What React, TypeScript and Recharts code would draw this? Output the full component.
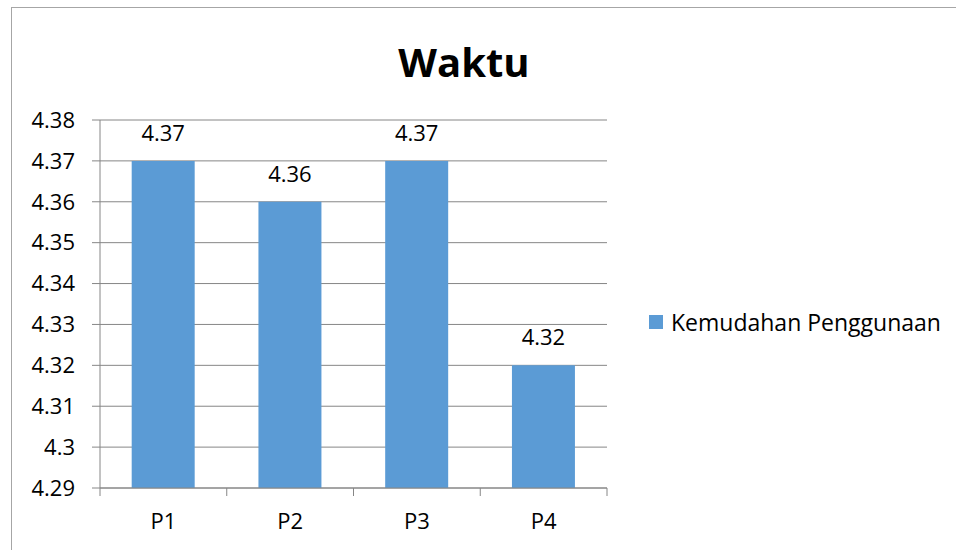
import { BarChart, Bar, XAxis, YAxis, CartesianGrid, Legend, LabelList } from 'recharts';

// data kategori dan nilai
const categories = ['P1', 'P2', 'P3', 'P4'];
const values = [4.37, 4.36, 4.37, 4.32];
const yTicks = [4.29, 4.3, 4.31, 4.32, 4.33, 4.34, 4.35, 4.36, 4.37, 4.38];
const seriesName = 'Kemudahan Penggunaan';

const chartData = categories.map((c, i) => ({ name: c, value: values[i] }));

const FONT = '"Open Sans", sans-serif';
const AXIS = '#868686';
const BAR = '#5B9BD5';

const fmt = (v: number) => String(Number(v.toFixed(2)));

// tick X: garis tick di batas kategori, label di tengah
const XTick = (props: any) => {
  const { x, y, payload, index, visibleTicksCount } = props;
  const half = payload && payload.offset ? payload.offset : 507 / 8;
  const isLast = index === visibleTicksCount - 1;
  return (
    <g>
      <line x1={x - half} y1={y - 8} x2={x - half} y2={y} stroke={AXIS} />
      {isLast && <line x1={x + half} y1={y - 8} x2={x + half} y2={y} stroke={AXIS} />}
      <text x={x} y={y + 33} textAnchor="middle" fontSize={22} fontFamily={FONT} fill="#000">
        {payload.value}
      </text>
    </g>
  );
};

const LegendBox = () => (
  <div style={{ display: 'flex', alignItems: 'center', fontFamily: FONT, fontSize: 23, color: '#000', whiteSpace: 'nowrap' }}>
    <span style={{ display: 'inline-block', width: 14, height: 14, background: BAR, marginRight: 8 }} />
    {seriesName}
  </div>
);

export default function App() {
  return (
    <div style={{ position: 'fixed', left: 0, top: 0, width: 956, height: 550, background: '#fff', overflow: 'hidden' }}>
      <div style={{ position: 'absolute', left: 11, top: 7, width: 980, height: 600, border: '1px solid #a6a6a6' }} />
      <div
        style={{
          position: 'absolute', left: 0, top: 34, width: 928, textAlign: 'center',
          fontFamily: FONT, fontWeight: 700, fontSize: 40, color: '#000', lineHeight: '56px',
        }}
      >
        Waktu
      </div>
      <div style={{ position: 'absolute', left: 0, top: 0 }}>
        <BarChart
          width={956}
          height={550}
          data={chartData}
          margin={{ top: 120, right: 349, bottom: 0, left: 0 }}
          barCategoryGap="25%"
        >
          <CartesianGrid vertical={false} stroke={AXIS} strokeDasharray="" />
          <XAxis
            dataKey="name"
            height={62}
            stroke={AXIS}
            tickLine={false}
            tick={<XTick />}
            interval={0}
          />
          <YAxis
            width={100}
            domain={[4.29, 4.38]}
            ticks={yTicks}
            stroke={AXIS}
            tickSize={8}
            tickMargin={17}
            tickFormatter={fmt}
            allowDataOverflow
            tick={{ fontSize: 22, fontFamily: FONT, fill: '#000' }}
          />
          <Legend
            layout="vertical"
            align="center"
            verticalAlign="middle"
            wrapperStyle={{ left: 649, top: 306, width: 300 }}
            content={<LegendBox />}
          />
          <Bar dataKey="value" name={seriesName} fill={BAR} isAnimationActive={false}>
            <LabelList
              dataKey="value"
              position="top"
              offset={20}
              formatter={(v: any) => fmt(Number(v))}
              style={{ fontSize: 22, fontFamily: FONT, fill: '#000' }}
            />
          </Bar>
        </BarChart>
      </div>
    </div>
  );
}
